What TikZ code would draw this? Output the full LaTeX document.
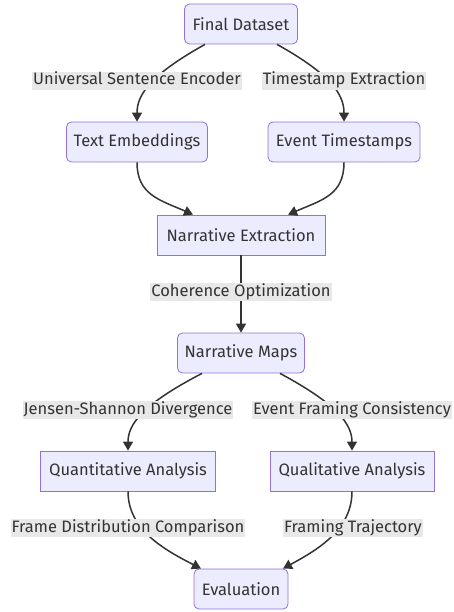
\documentclass[tikz,border=0pt]{standalone}
\usepackage{fontspec}
\setmainfont{Fira Sans}
\usetikzlibrary{arrows.meta}

\definecolor{boxfill}{HTML}{ECECFF}
\definecolor{boxline}{HTML}{9370DB}
\definecolor{lblfill}{HTML}{E8E8E8}
\definecolor{ink}{HTML}{333333}

\begin{document}
\begin{tikzpicture}[x=1pt, y=-1pt, font=\fontsize{16.5}{18}\selectfont,
	box/.style={draw=boxline, fill=boxfill, text=ink, minimum height=40pt, inner sep=0pt, line width=0.8pt},
	rbox/.style={box, rounded corners=5pt},
	lbl/.style={fill=lblfill, text=ink, inner sep=1pt},
	arr/.style={draw=ink, line width=1.5pt, -{Triangle[length=9pt,width=10pt]}}]
	\useasboundingbox (0,0) rectangle (453,612);

	%boxes: name / style / x / y / width / text
	\foreach \n/\s/\x/\y/\w/\t in {
		fd/rbox/241/24/113/Final Dataset,
		te/rbox/137/142/141/Text Embeddings,
		et/rbox/344/142/152/Event Timestamps,
		ne/box/241/235/168/Narrative Extraction,
		nm/rbox/241/353/127/Narrative Maps,
		qua/box/128/471/175/Quantitative Analysis,
		qla/box/352/471/164/Qualitative Analysis,
		ev/rbox/241/589/94/Evaluation}{
	\node[\s, minimum width=\w pt] (\n) at (\x,\y) {\t};}

	%edges
	\draw[arr] ([xshift=-36pt]fd.south) .. controls (150,75) and (137,95) .. (te.north);
	\draw[arr] ([xshift=36pt]fd.south) .. controls (332,75) and (344,95) .. (et.north);
	\draw[arr] (te.south) .. controls (137,195) and (160,200) .. ([xshift=-48pt]ne.north);
	\draw[arr] (et.south) .. controls (344,195) and (322,200) .. ([xshift=47pt]ne.north);
	\draw[arr] (ne) -- (nm);
	\draw[arr] ([xshift=-39pt]nm.south) .. controls (143,404) and (128,424) .. (qua.north);
	\draw[arr] ([xshift=39pt]nm.south) .. controls (337,404) and (352,424) .. (qla.north);
	\draw[arr] (qua.south) .. controls (128,530) and (165,550) .. ([xshift=-40pt]ev.north);
	\draw[arr] (qla.south) .. controls (352,530) and (317,550) .. ([xshift=42pt]ev.north);

	%edge labels on top
	\foreach \n/\x/\y/\t in {
		l1/137/81/Universal Sentence Encoder,
		l2/344/81/Timestamp Extraction,
		l3/241/292/Coherence Optimization,
		l4/128/410/Jensen-Shannon Divergence,
		l5/352/410/Event Framing Consistency,
		l6/128/528/Frame Distribution Comparison,
		l7/353/528/Framing Trajectory}{
	\node[lbl, text height=12pt, text depth=4pt] (\n) at (\x,\y) {\t};}

\end{tikzpicture}
\end{document}
